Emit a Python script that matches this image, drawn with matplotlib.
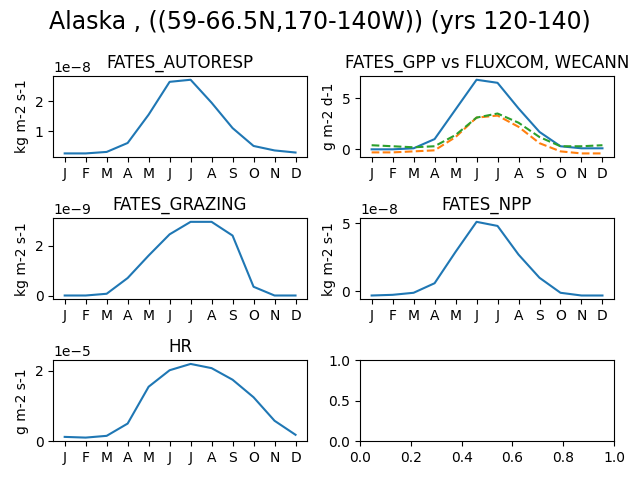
import matplotlib
matplotlib.use("Agg")
import matplotlib.pyplot as plt
import numpy as np

months = ['J', 'F', 'M', 'A', 'M', 'J', 'J', 'A', 'S', 'O', 'N', 'D']

autoresp = np.array([0.25, 0.25, 0.3, 0.6, 1.55, 2.65, 2.72, 1.95, 1.1, 0.5, 0.35, 0.28]) * 1e-8
gpp = [0.0, 0.0, 0.1, 1.0, 3.9, 6.8, 6.5, 4.0, 1.7, 0.3, 0.1, 0.1]
gpp_fluxcom = [-0.3, -0.3, -0.2, -0.1, 1.2, 3.1, 3.3, 2.2, 0.6, -0.2, -0.4, -0.4]
gpp_wecann = [0.4, 0.3, 0.2, 0.3, 1.4, 3.1, 3.5, 2.6, 1.2, 0.3, 0.3, 0.4]
grazing = np.array([0, 0, 0.07, 0.7, 1.6, 2.45, 2.95, 2.95, 2.4, 0.35, 0, 0]) * 1e-9
npp = np.array([-0.3, -0.25, -0.1, 0.6, 2.9, 5.1, 4.8, 2.7, 1.0, -0.1, -0.3, -0.3]) * 1e-8
hr = np.array([0.12, 0.1, 0.15, 0.5, 1.55, 2.02, 2.2, 2.08, 1.75, 1.25, 0.58, 0.18]) * 1e-5

x = np.arange(12)
fig, axs = plt.subplots(3, 2, figsize=(6.4, 4.8))
fig.suptitle('Alaska , ((59-66.5N,170-140W)) (yrs 120-140)', fontsize=17)

def panel(ax, y, title, unit):
    ax.plot(x, y)
    ax.set_title(title)
    ax.set_ylabel(unit)
    ax.set_xticks(x)
    ax.set_xticklabels(months)

panel(axs[0, 0], autoresp, 'FATES_AUTORESP', 'kg m-2 s-1')
panel(axs[0, 1], gpp, 'FATES_GPP vs FLUXCOM, WECANN', 'g m-2 d-1')
axs[0, 1].plot(x, gpp_fluxcom, '--')
axs[0, 1].plot(x, gpp_wecann, '--')
panel(axs[1, 0], grazing, 'FATES_GRAZING', 'kg m-2 s-1')
panel(axs[1, 1], npp, 'FATES_NPP', 'kg m-2 s-1')
panel(axs[2, 0], hr, 'HR', 'g m-2 s-1')

fig.tight_layout()
fig.savefig('out.png', dpi=100)
